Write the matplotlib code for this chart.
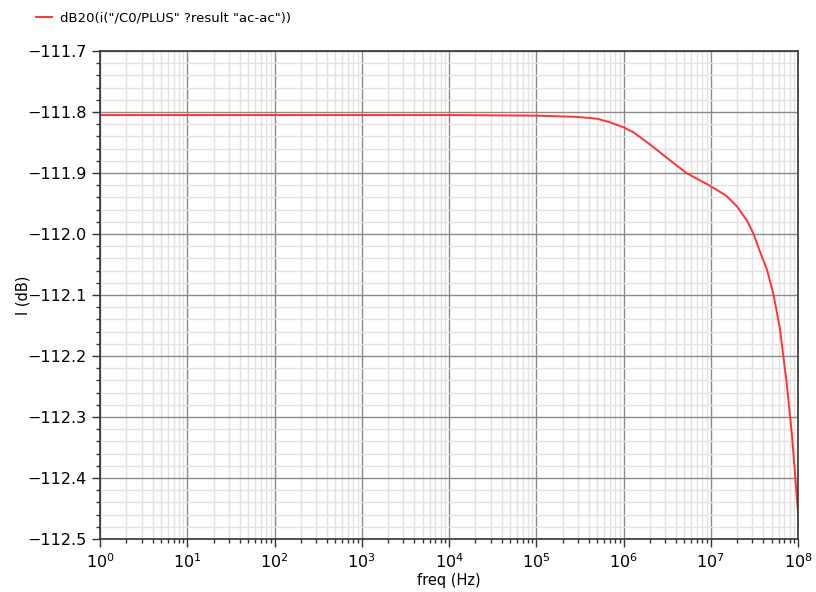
import matplotlib
matplotlib.use("Agg")
import matplotlib.pyplot as plt
from matplotlib.ticker import LogLocator, MultipleLocator, FixedLocator, NullFormatter
import numpy as np

# data
freq_hz = [1e0, 1e1, 1e2, 1e3, 1e4, 1e5, 2.9e5, 5.0e5, 7.0e5, 1.0e6, 1.29e6,
           2.0e6, 3.4e6, 5.25e6, 7.5e6, 9.8e6, 1.5e7, 2.0e7, 2.6e7, 3.1e7,
           3.6e7, 4.4e7, 5.25e7, 6.2e7, 7.4e7, 8.5e7, 9.3e7, 1.0e8]
idb = [-111.805, -111.805, -111.805, -111.805, -111.805, -111.806, -111.808,
       -111.811, -111.817, -111.825, -111.833, -111.853, -111.879, -111.900,
       -111.912, -111.921, -111.937, -111.955, -111.978, -112.000, -112.026,
       -112.058, -112.100, -112.155, -112.243, -112.327, -112.398, -112.456]
legend_label = 'dB20(i("/C0/PLUS" ?result "ac-ac"))'
yticks = [-111.7, -111.8, -111.9, -112.0, -112.1, -112.2, -112.3, -112.4, -112.5]

fig = plt.figure(figsize=(8.16, 5.92), dpi=100)
ax = fig.add_axes([100/816, 1-539/592, 698/816, 488/592])

line, = ax.plot(freq_hz, idb, color="#ff3333", lw=1.4)
ax.set_xscale("log")
ax.set_xlim(1, 1e8)
ax.set_ylim(-112.5, -111.7)

ax.xaxis.set_major_locator(LogLocator(base=10, numticks=20))
ax.xaxis.set_minor_locator(LogLocator(base=10, subs=np.arange(2, 10), numticks=20))
ax.xaxis.set_minor_formatter(NullFormatter())
ax.yaxis.set_major_locator(FixedLocator(yticks))
ax.yaxis.set_minor_locator(MultipleLocator(0.02))
ax.set_yticklabels([f"{v:.1f}".replace("-", "\u2212") for v in yticks])

ax.grid(which="major", color="#8a8a8a", lw=1.0)
ax.grid(which="minor", color="#e2e2e2", lw=1.0)
ax.set_axisbelow(True)

for s in ax.spines.values():
    s.set_color("#333333")
    s.set_linewidth(1.2)

ax.tick_params(which="major", length=6, width=1, direction="out", labelsize=11.5, color="#333333")
ax.tick_params(which="minor", length=3, width=1, direction="out", color="#333333")

ax.set_xlabel("freq (Hz)", fontsize=10.5)
ax.set_ylabel("I (dB)", fontsize=10.5)
ax.yaxis.set_label_coords(-0.10, 0.5)
ax.xaxis.set_label_coords(0.5, -0.07)

fig.legend([line], [legend_label], loc="upper left", bbox_to_anchor=(0.03, 1.0),
           frameon=False, fontsize=9.5, handlelength=1.2, handletextpad=0.6)

fig.savefig("out.png", dpi=100)
